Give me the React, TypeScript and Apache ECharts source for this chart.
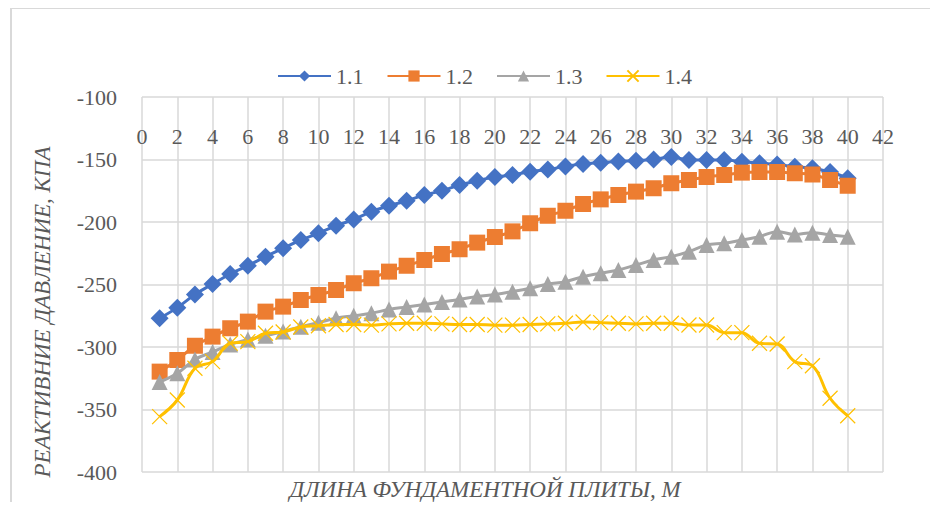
import React, { useEffect, useRef } from "react";
import * as echarts from "echarts";

const xValues = [1, 2, 3, 4, 5, 6, 7, 8, 9, 10, 11, 12, 13, 14, 15, 16, 17, 18, 19, 20, 21, 22, 23, 24, 25, 26, 27, 28, 29, 30, 31, 32, 33, 34, 35, 36, 37, 38, 39, 40];

const series11 = [-277, -268.5, -258, -249.6, -241.6, -235, -227.7, -221, -214.4, -209, -203, -198, -191.7, -187, -183, -178.4, -175, -170.4, -167, -164, -162.4, -159.7, -158, -155.5, -153.5, -152.5, -151.5, -151, -150, -148, -150.4, -150.4, -150.4, -151.7, -153, -154, -155.7, -157, -160, -165];

const series12 = [-319.7, -310.4, -299, -291.7, -285, -279.7, -271.7, -267.7, -262.4, -258.4, -254.4, -249, -245, -239.7, -235, -230.4, -225.6, -221.8, -216.5, -212, -207.5, -201, -195, -191, -185.6, -181.9, -178.4, -175.7, -173, -169, -166.4, -164, -162.4, -160.5, -160, -160, -161, -162, -166.4, -171];

const series13 = [-328, -321, -310, -304, -298, -294, -291, -287.5, -283.7, -280.5, -277, -275, -273, -270, -268, -266, -264, -262, -259.5, -258, -255.7, -253, -249.6, -247.7, -243.7, -241, -238.4, -234.4, -230.4, -227.7, -223.7, -218.4, -217, -214.4, -211.7, -207.7, -210, -208.5, -210.4, -211.7];

const series14 = [-355.7, -342.4, -317, -311.7, -297, -295.7, -289, -288, -284, -283, -282, -282, -282.5, -281.5, -281, -281, -281.5, -282, -282, -282.5, -282.5, -282, -281.5, -281, -280, -280.5, -281, -281.5, -281, -281, -282.4, -282.4, -288.5, -288.5, -297, -297.6, -311.7, -315, -341, -355];

const seriesNames = ["1.1", "1.2", "1.3", "1.4"];
const seriesColors = ["#4472C4", "#ED7D31", "#A5A5A5", "#FFC000"];
const xTitle = "ДЛИНА ФУНДАМЕНТНОЙ ПЛИТЫ, М";
const yTitle = "РЕАКТИВНИЕ ДАВЛЕНИЕ, КПА";

const FONT = "'Liberation Serif', 'Times New Roman', serif";
const TEXT = "#595959";

export default function App() {
  const ref = useRef<HTMLDivElement>(null);
  useEffect(() => {
    if (!ref.current) return;
    const chart = echarts.init(ref.current, undefined, { renderer: "svg" });
    const toPairs = (arr: number[]) => xValues.map((x, i) => [x, arr[i]]);
    const allData = [series11, series12, series13, series14];
    const symbols = [
      "diamond",
      "rect",
      "triangle",
      "path://M0,0L10,10M10,0L0,10",
    ];
    const sizes = [18, 16, 16, 15];
    chart.setOption({
      animation: false,
      backgroundColor: "#ffffff",
      textStyle: { fontFamily: FONT },
      graphic: [
        {
          type: "rect",
          shape: { x: 3, y: 0, width: 960, height: 540 },
          style: { fill: "none", stroke: "#d9d9d9", lineWidth: 2 },
          silent: true,
        },
        {
          type: "text",
          x: 477,
          y: 481,
          style: {
            text: xTitle,
            fill: TEXT,
            font: `italic 23px ${FONT}`,
            align: "center",
            verticalAlign: "middle",
          },
        },
        {
          type: "text",
          x: 34,
          y: 304,
          rotation: Math.PI / 2,
          style: {
            text: yTitle,
            fill: TEXT,
            font: `italic 23px ${FONT}`,
            align: "center",
            verticalAlign: "middle",
          },
        },
      ],
      legend: {
        left: 264,
        top: 52,
        itemWidth: 53,
        itemHeight: 14,
        itemGap: 23,
        textStyle: { fontSize: 22, color: TEXT, fontFamily: FONT },
        data: seriesNames,
      },
      grid: { left: 134, top: 89, right: 47, bottom: 30, containLabel: false },
      xAxis: {
        type: "value",
        position: "top",
        min: 0,
        max: 42,
        interval: 2,
        axisLine: { show: false },
        axisTick: { show: false },
        axisLabel: {
          inside: true,
          margin: 28,
          color: TEXT,
          fontSize: 22,
          fontFamily: FONT,
        },
        splitLine: { show: true, lineStyle: { color: "#d9d9d9", width: 1.5 } },
      },
      yAxis: {
        type: "value",
        min: -400,
        max: -100,
        interval: 50,
        axisLine: { show: false },
        axisTick: { show: false },
        axisLabel: { margin: 25, color: TEXT, fontSize: 22, fontFamily: FONT },
        splitLine: { show: true, lineStyle: { color: "#d9d9d9", width: 1.5 } },
      },
      series: seriesNames.map((name, i) => ({
        name,
        type: "line",
        data: toPairs(allData[i]),
        smooth: 0.4,
        symbol: symbols[i],
        symbolSize: sizes[i],
        showSymbol: true,
        lineStyle: { color: seriesColors[i], width: 3 },
        itemStyle:
          i === 3
            ? { color: seriesColors[i], borderColor: seriesColors[i], borderWidth: 1.2 }
            : { color: seriesColors[i], borderWidth: 0 },
        z: 2 + i,
      })),
    });
    return () => chart.dispose();
  }, []);
  return <div ref={ref} style={{ width: 922, height: 494 }} />;
}
